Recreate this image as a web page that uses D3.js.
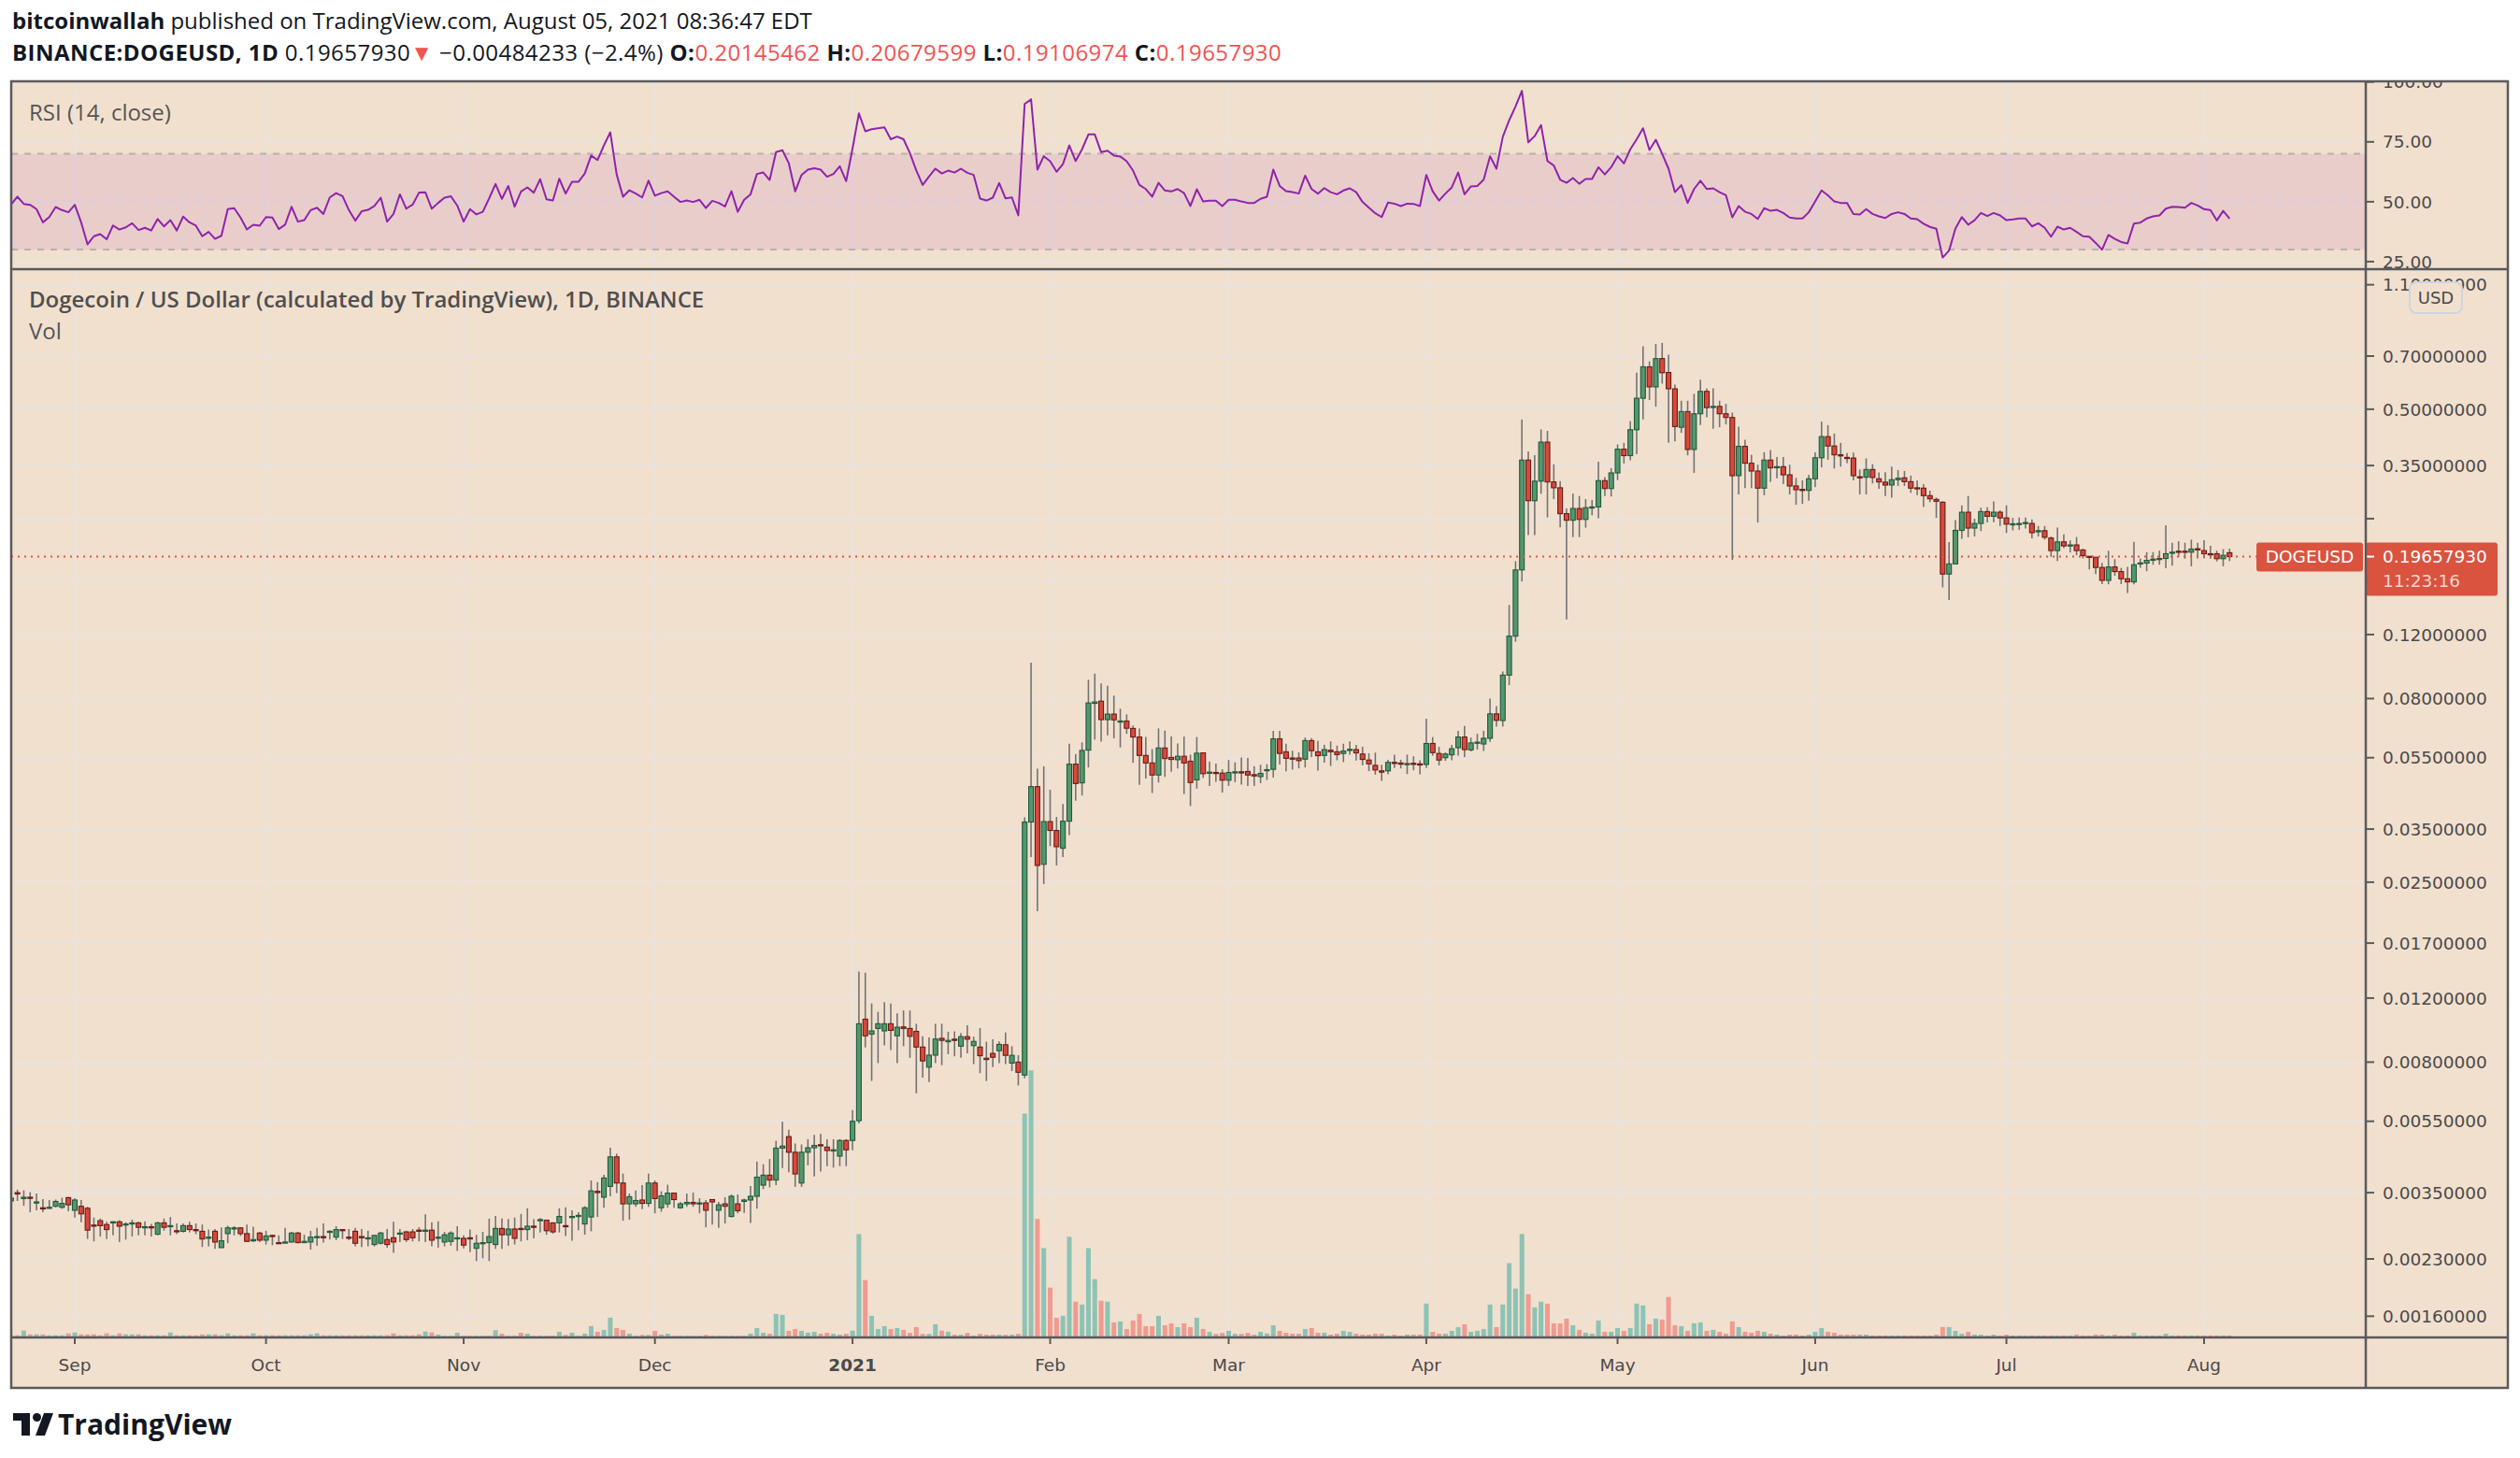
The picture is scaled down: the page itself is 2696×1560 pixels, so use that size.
<!DOCTYPE html>
<html>
<head>
<meta charset="utf-8">
<script src="https://cdn.jsdelivr.net/npm/d3@7"></script>
<style>
  html, body { margin: 0; padding: 0; background: #fff; }
  svg { display: block; }
  text { white-space: pre; }
</style>
</head>
<body>
<svg id="chart" width="2696" height="1560"></svg>
<script>
// DOGE/USD daily candles, 2020-08-22 .. 2021-08-05
const firstDay = Date.UTC(2020, 7, 22);

const opens = [
  0.00332,0.00350,0.00337,0.00340,0.00328,0.00318,0.00317,0.00321,0.00319,0.00339,
  0.00313,0.00321,0.00317,0.00285,0.00293,0.00286,0.00289,0.00291,0.00285,0.00287,
  0.00289,0.00281,0.00282,0.00269,0.00289,0.00283,0.00275,0.00274,0.00284,0.00277,
  0.00274,0.00263,0.00274,0.00247,0.00270,0.00279,0.00280,0.00270,0.00258,0.00271,
  0.00259,0.00267,0.00255,0.00255,0.00256,0.00271,0.00255,0.00256,0.00264,0.00265,
  0.00273,0.00264,0.00277,0.00264,0.00274,0.00265,0.00262,0.00252,0.00254,0.00260,
  0.00263,0.00270,0.00273,0.00273,0.00276,0.00274,0.00276,0.00263,0.00256,0.00257,
  0.00262,0.00262,0.00263,0.00246,0.00254,0.00255,0.00252,0.00279,0.00268,0.00278,
  0.00279,0.00277,0.00283,0.00294,0.00294,0.00289,0.00289,0.00284,0.00300,0.00302,
  0.00287,0.00300,0.00353,0.00340,0.00364,0.00439,0.00372,0.00326,0.00326,0.00334,
  0.00327,0.00372,0.00318,0.00326,0.00349,0.00318,0.00326,0.00329,0.00326,0.00328,
  0.00335,0.00313,0.00326,0.00301,0.00326,0.00331,0.00334,0.00342,0.00367,0.00391,
  0.00379,0.00464,0.00499,0.00452,0.00372,0.00452,0.00465,0.00474,0.00467,0.00457,
  0.00441,0.00487,0.00487,0.00552,0.0105,0.00955,0.00990,0.00975,0.0102,0.00945,
  0.0100,0.00990,0.00972,0.00880,0.00775,0.00836,0.00930,0.00910,0.00925,0.00885,
  0.00940,0.00888,0.00880,0.00820,0.00845,0.00860,0.00893,0.00795,0.00800,0.00737,
  0.0366,0.0458,0.0280,0.0367,0.0347,0.0310,0.0368,0.0528,0.0469,0.0577,
  0.0776,0.0787,0.0700,0.0725,0.0690,0.0694,0.0662,0.0627,0.0558,0.0532,
  0.0493,0.0585,0.0551,0.0543,0.0555,0.0538,0.0478,0.0567,0.0499,0.0501,
  0.0499,0.0477,0.0500,0.0503,0.0504,0.0494,0.0488,0.0508,0.0511,0.0620,
  0.0571,0.0549,0.0549,0.0545,0.0613,0.0571,0.0558,0.0577,0.0571,0.0565,
  0.0576,0.0579,0.0563,0.0542,0.0524,0.0506,0.0506,0.0534,0.0532,0.0528,
  0.0531,0.0529,0.0527,0.0602,0.0565,0.0550,0.0560,0.0586,0.0627,0.0578,
  0.0604,0.0600,0.0622,0.0726,0.0696,0.0928,0.1188,0.1807,0.3623,0.2801,
  0.3170,0.4060,0.3155,0.3040,0.2580,0.2475,0.2666,0.2488,0.2680,0.2693,
  0.3180,0.3025,0.3340,0.3883,0.3726,0.4390,0.5360,0.6540,0.5760,0.6890,
  0.6310,0.5690,0.4460,0.4925,0.3874,0.4858,0.5598,0.5070,0.5090,0.4858,
  0.4745,0.3282,0.3953,0.3552,0.3380,0.3033,0.3623,0.3460,0.3475,0.3300,
  0.3075,0.3009,0.2990,0.3218,0.3676,0.4203,0.3961,0.3746,0.3685,0.3670,
  0.3260,0.3250,0.3413,0.3218,0.3150,0.3093,0.3199,0.3237,0.3160,0.3040,
  0.3033,0.2892,0.2824,0.2774,0.1760,0.1877,0.2321,0.2604,0.2355,0.2425,
  0.2614,0.2537,0.2604,0.2512,0.2410,0.2415,0.2434,0.2425,0.2300,0.2317,
  0.2211,0.2042,0.2158,0.2104,0.2117,0.2050,0.1970,0.1958,0.1835,0.1691,
  0.1842,0.1788,0.1708,0.1675,0.1878,0.1886,0.1924,0.1940,0.1943,0.2010,
  0.2034,0.2034,0.2022,0.2066,0.2042,0.2002,0.2002,0.1940,0.20145462
];

const highs = [
  0.00340,0.00357,0.00355,0.00351,0.00348,0.00336,0.00334,0.00335,0.00339,0.00341,
  0.00338,0.00334,0.00320,0.00299,0.00297,0.00291,0.00292,0.00294,0.00290,0.00295,
  0.00291,0.00292,0.00287,0.00291,0.00297,0.00300,0.00288,0.00288,0.00291,0.00288,
  0.00286,0.00277,0.00278,0.00281,0.00284,0.00283,0.00281,0.00286,0.00282,0.00273,
  0.00275,0.00268,0.00267,0.00280,0.00273,0.00273,0.00268,0.00275,0.00280,0.00288,
  0.00276,0.00283,0.00278,0.00278,0.00280,0.00278,0.00275,0.00267,0.00273,0.00278,
  0.00291,0.00278,0.00275,0.00278,0.00281,0.00305,0.00290,0.00292,0.00273,0.00274,
  0.00283,0.00267,0.00277,0.00268,0.00273,0.00297,0.00302,0.00297,0.00296,0.00299,
  0.00306,0.00317,0.00296,0.00298,0.00295,0.00290,0.00317,0.00319,0.00313,0.00309,
  0.00321,0.00378,0.00374,0.00392,0.00465,0.00448,0.00395,0.00348,0.00355,0.00367,
  0.00395,0.00378,0.00353,0.00368,0.00349,0.00330,0.00348,0.00350,0.00338,0.00334,
  0.00336,0.00330,0.00340,0.00346,0.00346,0.00337,0.00365,0.00426,0.00419,0.00433,
  0.00486,0.00548,0.00521,0.00478,0.00475,0.00491,0.00505,0.00508,0.00491,0.00491,
  0.00491,0.00491,0.00590,0.0142,0.0141,0.0116,0.0110,0.0117,0.0116,0.0109,
  0.0111,0.0111,0.0102,0.00942,0.00936,0.0102,0.0102,0.00970,0.00972,0.00962,
  0.0101,0.00940,0.00993,0.00910,0.00925,0.00912,0.00965,0.00885,0.00836,0.0377,
  0.1004,0.0513,0.0521,0.0449,0.0378,0.0410,0.0601,0.0563,0.0606,0.0901,
  0.0937,0.0881,0.0868,0.0815,0.0750,0.0724,0.0675,0.0662,0.0627,0.0581,
  0.0662,0.0653,0.0629,0.0602,0.0629,0.0561,0.0627,0.0567,0.0537,0.0530,
  0.0511,0.0542,0.0534,0.0551,0.0549,0.0521,0.0526,0.0528,0.0652,0.0652,
  0.0601,0.0575,0.0569,0.0625,0.0623,0.0612,0.0597,0.0610,0.0594,0.0601,
  0.0610,0.0597,0.0590,0.0566,0.0568,0.0526,0.0543,0.0561,0.0543,0.0561,
  0.0555,0.0541,0.0704,0.0627,0.0589,0.0569,0.0597,0.0652,0.0673,0.0625,
  0.0640,0.0652,0.0800,0.0763,0.0950,0.1447,0.1910,0.4686,0.3826,0.3738,
  0.4400,0.4360,0.3527,0.3170,0.2666,0.2930,0.2886,0.2829,0.2815,0.3588,
  0.3250,0.3440,0.4001,0.4040,0.4640,0.6303,0.7450,0.6770,0.7560,0.7606,
  0.7060,0.5842,0.5276,0.5276,0.5511,0.6024,0.5710,0.5710,0.5276,0.5175,
  0.4895,0.4478,0.4121,0.3746,0.3517,0.3807,0.3860,0.3696,0.3696,0.3517,
  0.3237,0.3186,0.3300,0.3807,0.4620,0.4522,0.4287,0.4040,0.3790,0.3800,
  0.3413,0.3662,0.3530,0.3348,0.3355,0.3475,0.3400,0.3380,0.3282,0.3186,
  0.3112,0.2985,0.2857,0.2790,0.2155,0.2476,0.2719,0.2886,0.2500,0.2680,
  0.2686,0.2788,0.2635,0.2719,0.2512,0.2518,0.2518,0.2488,0.2386,0.2386,
  0.2233,0.2362,0.2262,0.2178,0.2225,0.2066,0.1970,0.1958,0.1890,0.2040,
  0.1935,0.1831,0.1842,0.2160,0.1943,0.2022,0.2022,0.2042,0.2399,0.2146,
  0.2167,0.2146,0.2189,0.2146,0.2180,0.2104,0.2042,0.2062,0.20679599
];

const lows = [
  0.00330,0.00332,0.00322,0.00309,0.00313,0.00309,0.00316,0.00319,0.00316,0.00311,
  0.00299,0.00290,0.00261,0.00257,0.00265,0.00261,0.00267,0.00256,0.00260,0.00265,
  0.00267,0.00267,0.00265,0.00267,0.00275,0.00267,0.00269,0.00272,0.00272,0.00269,
  0.00248,0.00249,0.00245,0.00247,0.00254,0.00267,0.00266,0.00257,0.00256,0.00256,
  0.00252,0.00251,0.00254,0.00255,0.00255,0.00254,0.00255,0.00244,0.00250,0.00255,
  0.00260,0.00259,0.00261,0.00259,0.00249,0.00248,0.00249,0.00249,0.00252,0.00247,
  0.00239,0.00256,0.00256,0.00257,0.00257,0.00256,0.00249,0.00247,0.00249,0.00250,
  0.00242,0.00246,0.00240,0.00227,0.00231,0.00227,0.00245,0.00245,0.00250,0.00252,
  0.00257,0.00259,0.00262,0.00272,0.00268,0.00270,0.00272,0.00266,0.00258,0.00276,
  0.00268,0.00274,0.00300,0.00318,0.00342,0.00349,0.00293,0.00295,0.00320,0.00315,
  0.00320,0.00307,0.00310,0.00318,0.00318,0.00316,0.00320,0.00320,0.00307,0.00281,
  0.00286,0.00280,0.00288,0.00299,0.00307,0.00308,0.00289,0.00316,0.00358,0.00362,
  0.00367,0.00409,0.00398,0.00363,0.00363,0.00416,0.00388,0.00400,0.00414,0.00410,
  0.00414,0.00414,0.00458,0.00543,0.00878,0.00710,0.00795,0.00890,0.00863,0.00795,
  0.00885,0.00822,0.00657,0.00725,0.00705,0.00795,0.00785,0.00841,0.00830,0.00823,
  0.00846,0.00790,0.00746,0.00710,0.00775,0.00795,0.00790,0.00756,0.00690,0.00722,
  0.0293,0.0208,0.0247,0.0314,0.0278,0.0293,0.0337,0.0419,0.0433,0.0517,
  0.0617,0.0609,0.0634,0.0622,0.0587,0.0640,0.0532,0.0463,0.0482,0.0440,
  0.0470,0.0487,0.0503,0.0514,0.0437,0.0405,0.0452,0.0484,0.0460,0.0472,
  0.0441,0.0460,0.0471,0.0464,0.0460,0.0460,0.0468,0.0478,0.0485,0.0527,
  0.0505,0.0510,0.0514,0.0517,0.0552,0.0507,0.0533,0.0522,0.0541,0.0535,
  0.0561,0.0540,0.0524,0.0505,0.0494,0.0475,0.0495,0.0515,0.0514,0.0496,
  0.0508,0.0495,0.0515,0.0557,0.0524,0.0539,0.0541,0.0557,0.0552,0.0572,
  0.0579,0.0574,0.0608,0.0670,0.0670,0.0871,0.1147,0.1680,0.2254,0.2254,
  0.2928,0.2520,0.2829,0.2367,0.1320,0.2225,0.2225,0.2360,0.2555,0.2507,
  0.2886,0.2875,0.3190,0.3545,0.3620,0.3760,0.4690,0.5300,0.5080,0.5880,
  0.4040,0.4081,0.4305,0.3733,0.3341,0.4522,0.4752,0.4417,0.4460,0.4540,
  0.1924,0.2914,0.3033,0.3033,0.2439,0.2900,0.3155,0.3230,0.3110,0.2914,
  0.2730,0.2746,0.2801,0.3050,0.3460,0.3630,0.3434,0.3475,0.3552,0.3186,
  0.2914,0.2914,0.3124,0.3020,0.2886,0.2857,0.3075,0.3075,0.2943,0.2900,
  0.2693,0.2774,0.2512,0.1618,0.1494,0.1877,0.2200,0.2222,0.2233,0.2310,
  0.2439,0.2444,0.2386,0.2284,0.2321,0.2330,0.2350,0.2206,0.2233,0.2189,
  0.1962,0.1912,0.2075,0.2018,0.1982,0.1943,0.1813,0.1760,0.1652,0.1649,
  0.1742,0.1652,0.1562,0.1650,0.1831,0.1792,0.1867,0.1867,0.1826,0.1857,
  0.1962,0.1940,0.1849,0.1943,0.1943,0.1940,0.1907,0.1849,0.19106974
];

const closes = [
  0.00338,0.00347,0.00340,0.00338,0.00330,0.00316,0.00319,0.00331,0.00327,0.00324,
  0.00334,0.00306,0.00276,0.00283,0.00284,0.00277,0.00291,0.00283,0.00287,0.00289,
  0.00281,0.00282,0.00280,0.00289,0.00281,0.00284,0.00274,0.00284,0.00277,0.00275,
  0.00261,0.00264,0.00256,0.00258,0.00280,0.00280,0.00270,0.00257,0.00260,0.00259,
  0.00266,0.00265,0.00254,0.00256,0.00271,0.00255,0.00257,0.00264,0.00265,0.00263,
  0.00274,0.00277,0.00276,0.00263,0.00254,0.00263,0.00263,0.00267,0.00271,0.00252,
  0.00256,0.00271,0.00260,0.00263,0.00274,0.00276,0.00259,0.00264,0.00268,0.00271,
  0.00263,0.00251,0.00261,0.00254,0.00255,0.00265,0.00279,0.00268,0.00278,0.00262,
  0.00277,0.00283,0.00281,0.00295,0.00275,0.00273,0.00301,0.00283,0.00301,0.00303,
  0.00318,0.00354,0.00350,0.00384,0.00439,0.00372,0.00326,0.00341,0.00333,0.00327,
  0.00372,0.00337,0.00343,0.00349,0.00335,0.00326,0.00329,0.00326,0.00328,0.00313,
  0.00330,0.00324,0.00321,0.00342,0.00312,0.00334,0.00342,0.00386,0.00391,0.00379,
  0.00464,0.00470,0.00452,0.00394,0.00452,0.00465,0.00472,0.00471,0.00457,0.00459,
  0.00487,0.00459,0.00550,0.0102,0.00945,0.00975,0.0102,0.0102,0.00978,0.00998,
  0.00990,0.00942,0.00880,0.00806,0.00836,0.00926,0.00918,0.00918,0.00918,0.00940,
  0.00925,0.00912,0.00833,0.00813,0.00825,0.00895,0.00835,0.00835,0.00750,0.0366,
  0.0458,0.0278,0.0367,0.0347,0.0313,0.0368,0.0528,0.0467,0.0576,0.0778,
  0.0783,0.0700,0.0725,0.0699,0.0694,0.0663,0.0627,0.0558,0.0532,0.0493,
  0.0585,0.0547,0.0544,0.0555,0.0532,0.0470,0.0566,0.0497,0.0502,0.0499,
  0.0477,0.0501,0.0503,0.0500,0.0493,0.0490,0.0498,0.0510,0.0620,0.0565,
  0.0548,0.0545,0.0540,0.0613,0.0575,0.0557,0.0579,0.0571,0.0561,0.0574,
  0.0580,0.0567,0.0544,0.0529,0.0509,0.0502,0.0534,0.0532,0.0528,0.0530,
  0.0529,0.0527,0.0602,0.0568,0.0542,0.0563,0.0582,0.0627,0.0579,0.0604,
  0.0607,0.0622,0.0726,0.0697,0.0928,0.1188,0.1807,0.3623,0.2801,0.3170,
  0.4060,0.3155,0.3040,0.2580,0.2475,0.2666,0.2488,0.2680,0.2693,0.3180,
  0.3025,0.3340,0.3883,0.3726,0.4390,0.5360,0.6540,0.5760,0.6890,0.6300,
  0.5690,0.4480,0.4925,0.3874,0.4858,0.5598,0.5051,0.5090,0.4858,0.4745,
  0.3282,0.3953,0.3552,0.3380,0.3033,0.3623,0.3448,0.3475,0.3300,0.3075,
  0.3003,0.2990,0.3218,0.3676,0.4203,0.3961,0.3746,0.3720,0.3670,0.3282,
  0.3250,0.3413,0.3245,0.3155,0.3093,0.3199,0.3230,0.3160,0.3033,0.3020,
  0.2892,0.2835,0.2790,0.1760,0.1877,0.2321,0.2604,0.2355,0.2425,0.2614,
  0.2537,0.2604,0.2512,0.2415,0.2420,0.2425,0.2440,0.2287,0.2317,0.2222,
  0.2042,0.2158,0.2104,0.2117,0.2042,0.1978,0.1958,0.1835,0.1691,0.1842,
  0.1788,0.1708,0.1675,0.1867,0.1889,0.1920,0.1935,0.1943,0.2002,0.2022,
  0.2030,0.2030,0.2062,0.2054,0.2002,0.1998,0.1940,0.1982,0.1965793
];

// volume, relative units (no axis on the chart)
const volumes = [
  23,23,73,33,33,33,23,23,23,43,
  53,33,33,33,23,43,23,43,33,33,
  33,23,23,23,23,53,23,23,23,23,
  33,33,33,23,43,23,23,23,43,23,
  23,23,23,23,23,23,23,33,43,23,
  23,23,23,23,23,23,23,23,23,23,
  43,23,23,23,33,63,53,30,17,17,
  50,17,17,17,17,17,77,40,17,17,
  50,40,17,17,17,17,60,27,50,17,
  40,120,60,80,210,100,80,40,17,27,
  27,70,30,40,17,17,17,17,17,27,
  17,17,17,17,17,17,40,100,50,40,
  250,240,70,90,70,50,60,40,50,40,
  30,40,72,1100,610,230,90,120,90,100,
  80,48,110,38,38,140,72,62,29,29,
  48,19,38,29,29,29,29,29,38,2380,
  2840,1260,950,530,210,230,1070,380,350,950,
  620,390,380,160,170,90,180,250,120,120,
  230,130,150,110,150,110,210,90,60,38,
  48,70,38,38,48,30,60,43,130,70,
  50,40,40,90,100,50,50,30,40,70,
  60,40,30,30,40,40,20,30,20,30,
  30,30,360,60,40,40,70,110,140,60,
  70,90,350,110,350,790,520,1100,460,320,
  380,360,150,150,200,130,80,50,40,180,
  60,60,100,70,100,360,340,140,200,190,
  430,130,120,70,150,160,70,80,60,40,
  170,110,60,50,70,60,40,30,20,30,
  30,20,30,60,100,60,50,30,30,30,
  30,30,20,20,20,20,20,20,20,20,
  20,20,30,110,110,70,40,60,30,30,
  20,30,20,30,20,20,20,20,20,20,
  20,20,20,20,30,20,20,30,30,20,
  30,20,20,50,20,20,20,20,40,20,
  20,20,20,20,20,20,20,20,20
];

// RSI (14, close)
const rsiValues = [
  48.8,52.1,49.1,48.7,46.9,41.4,43.6,47.8,46.5,45.6,
  48.7,41.4,32.2,35.6,36.5,34.3,40.1,38.4,39.3,41.0,
  38.2,39.1,38.0,42.8,39.7,42.3,38.0,43.8,41.4,40.0,
  35.6,37.4,34.5,35.8,46.9,47.3,43.4,38.4,40.4,40.0,
  43.6,43.4,38.6,40.4,47.9,41.7,42.3,46.5,47.5,44.9,
  51.8,53.6,52.3,46.5,42.1,46.0,46.6,48.2,51.7,41.7,
  44.9,53.1,47.1,48.8,53.8,53.9,47.1,49.5,51.7,52.3,
  48.4,41.7,46.9,44.7,45.8,51.4,57.4,51.2,56.6,47.9,
  54.3,56.0,53.8,59.4,51.0,50.5,59.6,53.4,58.3,58.3,
  61.8,69.3,67.4,73.5,79.0,61.4,52.1,54.8,53.4,51.8,
  58.8,52.5,53.6,54.3,52.1,49.9,50.5,49.9,50.8,47.4,
  50.4,49.5,48.0,54.4,45.8,50.8,53.1,61.6,62.2,59.1,
  70.7,71.5,66.1,54.3,61.2,63.4,64.0,63.4,60.4,61.6,
  64.8,58.6,72.2,86.9,79.4,80.3,80.7,81.1,76.1,77.2,
  76.1,70.3,63.1,57.0,60.5,63.8,61.8,63.0,62.2,63.8,
  62.1,61.2,51.3,50.5,51.7,57.8,51.4,51.8,44.3,90.8,
  92.8,63.4,69.0,66.9,62.5,65.7,73.5,67.0,71.9,78.1,
  78.1,70.7,71.3,69.3,68.9,66.9,63.0,57.0,55.3,52.1,
  57.9,54.7,54.3,55.3,53.6,48.2,55.2,50.1,50.4,50.4,
  48.2,50.8,50.8,50.1,49.5,49.5,51.2,52.1,63.4,56.6,
  54.4,54.0,53.4,60.9,55.3,53.4,55.7,54.0,53.1,54.7,
  55.6,54.0,49.9,47.5,45.2,43.6,49.7,49.2,48.2,49.2,
  49.1,48.2,61.2,54.4,50.5,53.4,56.0,62.2,53.1,56.4,
  56.6,59.2,69.0,63.8,77.1,84.0,89.8,96.3,74.8,77.4,
  82.0,67.0,65.1,59.2,57.9,59.9,57.5,59.5,59.5,64.4,
  61.4,64.4,69.0,66.0,71.9,76.1,80.7,71.6,75.9,70.0,
  63.8,54.0,56.9,49.5,55.3,58.8,55.3,55.6,54.0,52.7,
  43.5,48.2,45.8,44.9,42.8,47.3,46.2,46.6,45.3,43.4,
  43.0,43.0,45.6,50.1,54.7,52.7,50.1,49.5,49.5,44.9,
  44.7,46.9,44.9,43.9,43.2,44.9,45.6,44.9,43.0,42.7,
  40.8,39.5,38.7,26.7,29.6,38.8,43.6,40.4,42.3,45.3,
  44.0,45.3,44.3,42.3,42.6,43.0,43.0,39.7,41.0,39.1,
  35.4,39.6,38.4,39.1,37.4,35.6,35.4,32.8,30.0,36.1,
  34.5,33.2,32.6,40.9,41.3,43.0,43.9,44.3,47.1,47.9,
  47.8,47.5,49.5,48.4,46.9,46.5,42.2,46.2,43.0
];

const priceTicks = [1.1, 0.7, 0.5, 0.35, 0.25, 0.17, 0.12, 0.08, 0.055, 0.035, 0.025,
                    0.017, 0.012, 0.008, 0.0055, 0.0035, 0.0023, 0.0016];
const rsiTicks = [100, 75, 50, 25];
const monthTicks = [
  ["2020-09-01", "Sep"], ["2020-10-01", "Oct"], ["2020-11-01", "Nov"], ["2020-12-01", "Dec"],
  ["2021-01-01", "2021"], ["2021-02-01", "Feb"], ["2021-03-01", "Mar"], ["2021-04-01", "Apr"],
  ["2021-05-01", "May"], ["2021-06-01", "Jun"], ["2021-07-01", "Jul"], ["2021-08-01", "Aug"]
];
const lastPrice = 0.1965793;

// ---------- layout ----------
const L = 12, R = 2683, T = 87, B = 1485;
const AX = 2531;          // price axis line
const RB = 288;           // rsi / main divider
const MB = 1431;          // main / time axis divider

const bg = "#f2e0cf", gridC = "#e8e3de", frameC = "#5a5a5a", textC = "#4a4a4a";
const upFill = "#53976f", upLine = "#1f5a3a", dnFill = "#d64a3b", dnLine = "#6b1a15";
const font = "'Open Sans', sans-serif", axisFont = "'DejaVu Sans', sans-serif";

const bars = closes.map((c, i) => ({
  date: new Date(firstDay + i * 864e5),
  o: opens[i], h: highs[i], l: lows[i], c: c,
  v: volumes[i], rsi: rsiValues[i]
}));

const x = d3.scaleUtc()
  .domain([new Date("2020-09-01T00:00Z"), new Date("2021-08-01T00:00Z")])
  .range([80, 2358]);
const y = d3.scaleLog().domain([0.7, 0.0023]).range([381, 1347]);
const yRsi = d3.scaleLinear().domain([70, 30]).range([164.6, 267.1]);
const yVol = d3.scaleLinear().domain([0, d3.max(volumes)]).range([MB, MB - 0.25 * (MB - RB)]);

const svg = d3.select("#chart");
const defs = svg.append("defs");
function clip(id, x0, y0, x1, y1) {
  defs.append("clipPath").attr("id", id).append("rect")
    .attr("x", x0).attr("y", y0).attr("width", x1 - x0).attr("height", y1 - y0);
}
clip("cRsi", L, T, AX, RB);
clip("cMain", L, RB, AX, MB);
clip("cRsiAx", AX, T, R, RB);
clip("cMainAx", AX, RB, R, MB);

svg.append("rect").attr("x", L).attr("y", T).attr("width", R - L).attr("height", B - T).attr("fill", bg);

// ---------- grid ----------
const grid = svg.append("g").attr("stroke", gridC).attr("stroke-width", 2);
grid.selectAll(".vg").data(monthTicks).join("line")
  .attr("x1", d => x(new Date(d[0] + "T00:00Z"))).attr("x2", d => x(new Date(d[0] + "T00:00Z")))
  .attr("y1", T).attr("y2", MB);
grid.append("g").attr("clip-path", "url(#cMain)").selectAll("line").data(priceTicks).join("line")
  .attr("x1", L).attr("x2", AX).attr("y1", d => y(d)).attr("y2", d => y(d));
grid.append("g").attr("clip-path", "url(#cRsi)").selectAll("line").data([100, 75, 25]).join("line")
  .attr("x1", L).attr("x2", AX).attr("y1", d => yRsi(d)).attr("y2", d => yRsi(d));

// ---------- RSI pane ----------
const rsiG = svg.append("g").attr("clip-path", "url(#cRsi)");
rsiG.append("rect").attr("x", L).attr("width", AX - L)
  .attr("y", yRsi(70)).attr("height", yRsi(30) - yRsi(70))
  .attr("fill", "#9c27b0").attr("fill-opacity", 0.1);
rsiG.selectAll(".band").data([70, 30]).join("line")
  .attr("x1", L).attr("x2", AX).attr("y1", d => yRsi(d)).attr("y2", d => yRsi(d))
  .attr("stroke", "#b8b0ae").attr("stroke-width", 2).attr("stroke-dasharray", "7,7");
rsiG.append("line").attr("x1", L).attr("x2", AX).attr("y1", yRsi(50)).attr("y2", yRsi(50))
  .attr("stroke", "#d9cde3").attr("stroke-width", 2).attr("stroke-dasharray", "7,7");
rsiG.append("path").datum(bars)
  .attr("fill", "none").attr("stroke", "#8e24aa").attr("stroke-width", 2)
  .attr("stroke-linejoin", "round")
  .attr("d", d3.line().x(d => x(d.date)).y(d => yRsi(d.rsi)));
svg.append("text").attr("x", 31).attr("y", 129)
  .style("font-family", font).style("font-size", "24px").attr("fill", "#555")
  .text("RSI (14, close)");

// ---------- main pane ----------
const mainG = svg.append("g").attr("clip-path", "url(#cMain)");
const bw = 5;
mainG.append("g").selectAll("rect").data(bars).join("rect")
  .attr("x", d => x(d.date) - bw / 2).attr("width", bw)
  .attr("y", d => yVol(d.v)).attr("height", d => MB - yVol(d.v))
  .attr("fill", d => d.c >= d.o ? "#26a69a" : "#ef5350").attr("fill-opacity", 0.5);

const candles = mainG.append("g").selectAll("g").data(bars).join("g");
candles.append("line")
  .attr("x1", d => x(d.date)).attr("x2", d => x(d.date))
  .attr("y1", d => y(d.h)).attr("y2", d => y(d.l))
  .attr("stroke", "#737373").attr("stroke-width", 1.6);
candles.append("rect")
  .attr("x", d => x(d.date) - bw / 2).attr("width", bw)
  .attr("y", d => y(Math.max(d.o, d.c)))
  .attr("height", d => Math.max(1.2, y(Math.min(d.o, d.c)) - y(Math.max(d.o, d.c))))
  .attr("fill", d => d.c >= d.o ? upFill : dnFill)
  .attr("stroke", d => d.c >= d.o ? upLine : dnLine).attr("stroke-width", 1.1);

mainG.append("line").attr("x1", L).attr("x2", AX).attr("y1", y(lastPrice)).attr("y2", y(lastPrice))
  .attr("stroke", "#e0533f").attr("stroke-width", 2).attr("stroke-dasharray", "2,5");

svg.append("text").attr("x", 31).attr("y", 329)
  .style("font-family", font).style("font-size", "24px").style("font-weight", 600).attr("fill", "#4f4f4f")
  .text("Dogecoin / US Dollar (calculated by TradingView), 1D, BINANCE");
svg.append("text").attr("x", 31).attr("y", 363)
  .style("font-family", font).style("font-size", "24px").attr("fill", "#555")
  .text("Vol");

// ---------- axes ----------
const fmt = d3.format(".8f");
const py = y(lastPrice);
const pAx = svg.append("g").attr("clip-path", "url(#cMainAx)");
pAx.selectAll("line").data(priceTicks).join("line")
  .attr("x1", AX).attr("x2", AX + 9).attr("y1", d => y(d)).attr("y2", d => y(d))
  .attr("stroke", frameC).attr("stroke-width", 2);
// labels hidden behind the last-price badge are skipped, as the platform does
pAx.selectAll("text").data(priceTicks.filter(d => Math.abs(y(d) - py) > 45)).join("text")
  .attr("x", 2549).attr("y", d => y(d)).attr("dy", "0.36em")
  .style("font-family", axisFont).style("font-size", "18.5px").attr("fill", textC)
  .text(d => fmt(d));

const rAx = svg.append("g").attr("clip-path", "url(#cRsiAx)");
rAx.selectAll("line").data(rsiTicks).join("line")
  .attr("x1", AX).attr("x2", AX + 9).attr("y1", d => yRsi(d)).attr("y2", d => yRsi(d))
  .attr("stroke", frameC).attr("stroke-width", 2);
rAx.selectAll("text").data(rsiTicks).join("text")
  .attr("x", 2549).attr("y", d => yRsi(d)).attr("dy", "0.36em")
  .style("font-family", axisFont).style("font-size", "18.5px").attr("fill", textC)
  .text(d => d3.format(".2f")(d));

// USD badge over the top price label
svg.append("rect").attr("x", 2578).attr("y", 302).attr("width", 56).attr("height", 33).attr("rx", 7)
  .attr("fill", bg).attr("stroke", "#cdd5de").attr("stroke-width", 2);
svg.append("text").attr("x", 2606).attr("y", 319).attr("dy", "0.36em").attr("text-anchor", "middle")
  .style("font-family", axisFont).style("font-size", "18px").attr("fill", textC).text("USD");

const tAx = svg.append("g");
tAx.selectAll("line").data(monthTicks).join("line")
  .attr("x1", d => x(new Date(d[0] + "T00:00Z"))).attr("x2", d => x(new Date(d[0] + "T00:00Z")))
  .attr("y1", MB).attr("y2", MB + 7).attr("stroke", frameC).attr("stroke-width", 2);
tAx.selectAll("text").data(monthTicks).join("text")
  .attr("x", d => x(new Date(d[0] + "T00:00Z"))).attr("y", 1467).attr("text-anchor", "middle")
  .style("font-family", axisFont).style("font-size", "18.5px")
  .style("font-weight", d => d[1] === "2021" ? 700 : 400).attr("fill", textC)
  .text(d => d[1]);

// ---------- last price labels ----------
svg.append("rect").attr("x", 2414).attr("y", py - 15).attr("width", 114).attr("height", 31).attr("rx", 3)
  .attr("fill", "#d9533f");
svg.append("text").attr("x", 2471).attr("y", py).attr("dy", "0.36em").attr("text-anchor", "middle")
  .style("font-family", axisFont).style("font-size", "18.5px").attr("fill", "#fff").text("DOGEUSD");
svg.append("rect").attr("x", AX).attr("y", py - 15).attr("width", 141).attr("height", 57).attr("rx", 3)
  .attr("fill", "#d9533f");
svg.append("line").attr("x1", AX).attr("x2", AX + 9).attr("y1", py).attr("y2", py)
  .attr("stroke", "#fff").attr("stroke-width", 2);
svg.append("text").attr("x", 2549).attr("y", py).attr("dy", "0.36em")
  .style("font-family", axisFont).style("font-size", "18.5px").attr("fill", "#fff").text(fmt(lastPrice));
svg.append("text").attr("x", 2549).attr("y", py + 26).attr("dy", "0.36em")
  .style("font-family", axisFont).style("font-size", "18.5px").attr("fill", "#f6d3cc").text("11:23:16");

// ---------- frame ----------
const frame = svg.append("g").attr("stroke", frameC).attr("stroke-width", 2.5).attr("fill", "none");
frame.append("rect").attr("x", L).attr("y", T).attr("width", R - L).attr("height", B - T);
frame.append("line").attr("x1", AX).attr("x2", AX).attr("y1", T).attr("y2", B);
frame.append("line").attr("x1", L).attr("x2", R).attr("y1", RB).attr("y2", RB);
frame.append("line").attr("x1", L).attr("x2", R).attr("y1", MB).attr("y2", MB);

// ---------- header ----------
const red = "#ef5350";
const h1 = svg.append("text").attr("x", 13).attr("y", 31)
  .style("font-family", font).style("font-size", "24px").attr("fill", "#131722");
h1.append("tspan").style("font-weight", 700).text("bitcoinwallah");
h1.append("tspan").text(" published on TradingView.com, August 05, 2021 08:36:47 EDT");

const h2 = svg.append("text").attr("x", 13).attr("y", 65)
  .style("font-family", font).style("font-size", "24px").style("letter-spacing", "0.45px")
  .attr("fill", "#131722");
[
  ["BINANCE:DOGEUSD, 1D ", 700, null],
  ["0.19657930", 400, null],
  ["▼", 400, red],
  [" −0.00484233 (−2.4%) ", 400, null],
  ["O:", 700, null], ["0.20145462", 400, red],
  [" H:", 700, null], ["0.20679599", 400, red],
  [" L:", 700, null], ["0.19106974", 400, red],
  [" C:", 700, null], ["0.19657930", 400, red]
].forEach(([t, w, c]) => {
  const s = h2.append("tspan").style("font-weight", w).text(t);
  if (c) s.attr("fill", c);
});

// ---------- TradingView logo ----------
const logo = svg.append("g").attr("fill", "#131722");
logo.append("path").attr("d", "M14 1512 H32 V1536 H23 V1520 H14 Z");
logo.append("circle").attr("cx", 39.5).attr("cy", 1516.5).attr("r", 4.5);
logo.append("path").attr("d", "M47 1512 H57 L48 1536 H38 Z");
svg.append("text").attr("x", 62).attr("y", 1535)
  .style("font-family", font).style("font-size", "30px").style("font-weight", 700)
  .attr("fill", "#131722").text("TradingView");
</script>
</body>
</html>
